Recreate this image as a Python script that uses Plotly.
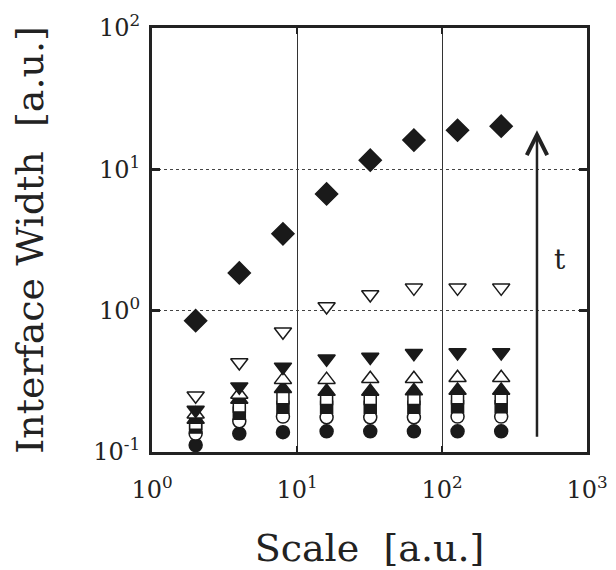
import plotly.graph_objects as go

scale = [2, 4, 8, 16, 32, 64, 128, 256]

filled_circle   = [0.112, 0.135, 0.138, 0.140, 0.140, 0.140, 0.140, 0.140]
open_circle     = [0.135, 0.165, 0.178, 0.176, 0.176, 0.176, 0.178, 0.178]
filled_square   = [0.150, 0.188, 0.207, 0.207, 0.207, 0.207, 0.209, 0.209]
open_square     = [0.160, 0.212, 0.242, 0.239, 0.239, 0.239, 0.242, 0.242]
filled_triup    = [0.170, 0.235, 0.280, 0.268, 0.268, 0.270, 0.272, 0.272]
open_triup      = [0.185, 0.255, 0.325, 0.325, 0.330, 0.330, 0.335, 0.335]
filled_tridown  = [0.198, 0.290, 0.400, 0.457, 0.470, 0.500, 0.505, 0.505]
open_tridown    = [0.250, 0.430, 0.710, 1.070, 1.300, 1.450, 1.450, 1.450]
filled_diamond  = [0.850, 1.850, 3.500, 6.700, 11.60, 16.10, 18.90, 20.20]

x_tickvals = [1, 10, 100, 1000]
x_ticktext = ["10<sup>0</sup>", "10<sup>1</sup>", "10<sup>2</sup>", "10<sup>3</sup>"]
y_tickvals = [0.1, 1, 10, 100]
y_ticktext = ["10<sup>-1</sup>", "10<sup>0</sup>", "10<sup>1</sup>", "10<sup>2</sup>"]

series = [
    (filled_circle, "circle", "#1a1a1a", 13),
    (open_circle, "circle", "white", 13),
    (filled_square, "square", "#1a1a1a", 12),
    (open_square, "square", "white", 12),
    (filled_triup, "triangle-up", "#1a1a1a", 15),
    (open_triup, "triangle-up", "white", 15),
    (filled_tridown, "triangle-down", "#1a1a1a", 15),
    (open_tridown, "triangle-down", "white", 15),
    (filled_diamond, "diamond", "#1a1a1a", 17),
]

fig = go.Figure()
for vals, sym, fill, size in series:
    fig.add_trace(go.Scatter(
        x=scale, y=vals, mode="markers",
        marker=dict(symbol=sym, color=fill, size=size,
                    line=dict(color="#1a1a1a", width=1.5)),
        showlegend=False,
    ))

font_family = "DejaVu Serif"

fig.update_xaxes(
    type="log", range=[0, 3], automargin=False,
    tickvals=x_tickvals, ticktext=x_ticktext,
    showgrid=True, gridcolor="#333333", gridwidth=1,
    showline=True, linecolor="#222222", linewidth=3, mirror="all",
    ticks="inside", ticklen=6, tickwidth=2, tickcolor="#222222",
    tickfont=dict(family=font_family, size=24, color="#222222"),
    ticklabelstandoff=14, ticklabeloverflow="allow",
    zeroline=False,
    title=dict(text="Scale  [a.u.]", font=dict(family=font_family, size=38, color="#222222"), standoff=32),
)
fig.update_yaxes(
    type="log", range=[-1, 2], automargin=False,
    tickvals=y_tickvals, ticktext=y_ticktext,
    showgrid=True, gridcolor="#444444", gridwidth=1, griddash="dot",
    showline=True, linecolor="#222222", linewidth=3, mirror="all",
    ticks="inside", ticklen=8, tickwidth=3, tickcolor="#222222",
    tickfont=dict(family=font_family, size=24, color="#222222"),
    ticklabelstandoff=4, ticklabeloverflow="allow",
    zeroline=False,
    title=dict(text="Interface Width  [a.u.]", font=dict(family=font_family, size=38, color="#222222"), standoff=47),
)

fig.add_annotation(
    x=2.655, y=1.276, ax=2.655, ay=-0.902,
    xref="x", yref="y", axref="x", ayref="y",
    text="", showarrow=True, arrowhead=5, arrowsize=1.6, arrowwidth=2.5, arrowcolor="#222222",
)
fig.add_annotation(
    x=2.814, y=0.363, xref="x", yref="y", text="t", showarrow=False,
    font=dict(family=font_family, size=28, color="#222222"),
)

fig.update_layout(
    width=616, height=570,
    margin=dict(l=144, r=37, t=20, b=126),
    paper_bgcolor="white", plot_bgcolor="white",
)

fig.write_html("out.html")
